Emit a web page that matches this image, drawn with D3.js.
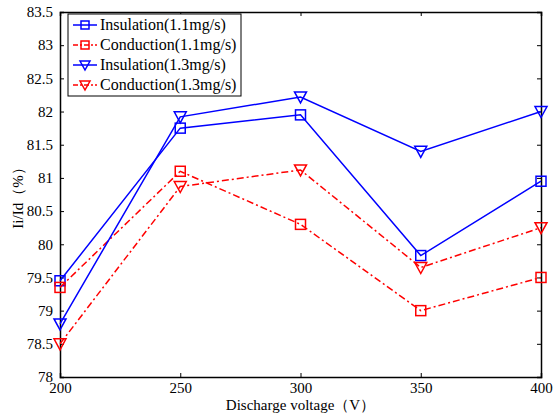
<!DOCTYPE html>
<html>
<head>
<meta charset="utf-8">
<script src="https://cdn.jsdelivr.net/npm/d3@7"></script>
<style>
  body { margin: 0; background: #fff; }
  text { font-family: "Liberation Serif", "Times New Roman", serif; }
</style>
</head>
<body>
<script>
// -- data --
var voltages = [200, 250, 300, 350, 400];
var ins11 = [79.45, 81.75, 81.95, 79.83, 80.95];
var con11 = [79.35, 81.1, 80.3, 79.0, 79.5];
var ins13 = [78.8, 81.92, 82.22, 81.4, 82.0];
var con13 = [78.5, 80.87, 81.12, 79.65, 80.25];
var xTicks = [200, 250, 300, 350, 400];
var yTicks = [78, 78.5, 79, 79.5, 80, 80.5, 81, 81.5, 82, 82.5, 83, 83.5];

var series = [
    {name: "Insulation(1.1mg/s)", vals: ins11, col: "#0000ff", dash: null, mark: "square"},
    {name: "Conduction(1.1mg/s)", vals: con11, col: "#ff0000", dash: "7,3,2,3", mark: "square"},
    {name: "Insulation(1.3mg/s)", vals: ins13, col: "#0000ff", dash: null, mark: "tri"},
    {name: "Conduction(1.3mg/s)", vals: con13, col: "#ff0000", dash: "7,3,2,3", mark: "tri"}
];

var W = 556, H = 416;
var margin = {top: 12, right: 15, bottom: 39, left: 60},
    width = W - margin.left - margin.right,
    height = H - margin.top - margin.bottom;

var svg = d3.select("body").append("svg")
    .attr("width", W)
    .attr("height", H);

var g = svg.append("g")
    .attr("transform", "translate(" + margin.left + "," + margin.top + ")");

var xScale = d3.scaleLinear().domain([200, 400]).range([0, width]),
    yScale = d3.scaleLinear().domain([78, 83.5]).range([height, 0]);

// axes, ticks pointing inward on all four sides
var fmt = function(d){ return String(d); };
g.append("g").attr("transform", "translate(0," + height + ")")
    .call(d3.axisBottom(xScale).tickValues(xTicks).tickSize(-4).tickPadding(5).tickFormat(fmt));
g.append("g")
    .call(d3.axisTop(xScale).tickValues(xTicks).tickSize(-4).tickFormat(""));
g.append("g")
    .call(d3.axisLeft(yScale).tickValues(yTicks).tickSize(-4).tickPadding(7).tickFormat(fmt));
g.append("g").attr("transform", "translate(" + width + ",0)")
    .call(d3.axisRight(yScale).tickValues(yTicks).tickSize(-4).tickFormat(""));

g.selectAll(".domain").attr("stroke", "#000").attr("stroke-width", 1.5);
g.selectAll(".tick line").attr("stroke", "#000").attr("stroke-width", 1);
g.selectAll(".tick text")
    .attr("font-family", "Liberation Serif")
    .attr("font-size", 15)
    .attr("fill", "#000");

// symbols
function drawMark(sel, s, x, y, r) {
    if (s.mark == "square") {
        sel.append("rect")
            .attr("x", x - r).attr("y", y - r)
            .attr("width", 2 * r).attr("height", 2 * r)
            .attr("fill", "none").attr("stroke", s.col).attr("stroke-width", 1.5);
    } else {
        var t = r + 1;
        sel.append("path")
            .attr("d", "M" + (x - t) + "," + (y - r) + "L" + (x + t) + "," + (y - r) + "L" + x + "," + (y + t) + "Z")
            .attr("fill", "none").attr("stroke", s.col).attr("stroke-width", 1.5);
    }
}

var line = d3.line()
    .x(function(d, i){ return xScale(voltages[i]); })
    .y(function(d){ return yScale(d); });

series.forEach(function(s) {
    g.append("path")
        .datum(s.vals)
        .attr("d", line)
        .attr("fill", "none")
        .attr("stroke", s.col)
        .attr("stroke-width", 1.5)
        .attr("stroke-dasharray", s.dash);
    s.vals.forEach(function(v, i) {
        drawMark(g, s, xScale(voltages[i]), yScale(v), 5);
    });
});

// legend
var leg = g.append("g").attr("transform", "translate(8,2)");
leg.append("rect")
    .attr("width", 173).attr("height", 82)
    .attr("fill", "#fff").attr("stroke", "#000").attr("stroke-width", 1);
series.forEach(function(s, i) {
    var ly = 11 + i * 20;
    leg.append("line")
        .attr("x1", 5).attr("x2", 29).attr("y1", ly).attr("y2", ly)
        .attr("stroke", s.col).attr("stroke-width", 1.5)
        .attr("stroke-dasharray", s.dash ? "5,2,2,2" : null);
    drawMark(leg, s, 17, ly, 4);
    leg.append("text")
        .attr("x", 32).attr("y", ly + 5)
        .attr("font-size", 16)
        .text(s.name);
});

// axis titles
svg.append("text")
    .attr("x", margin.left + width / 2).attr("y", 410)
    .attr("text-anchor", "middle")
    .attr("font-size", 15)
    .text("Discharge voltage（V）");

svg.append("text")
    .attr("transform", "translate(23," + (margin.top + height / 2) + ") rotate(-90)")
    .attr("text-anchor", "middle")
    .attr("font-size", 15)
    .text("Ii/Id（%）");
</script>
</body>
</html>
